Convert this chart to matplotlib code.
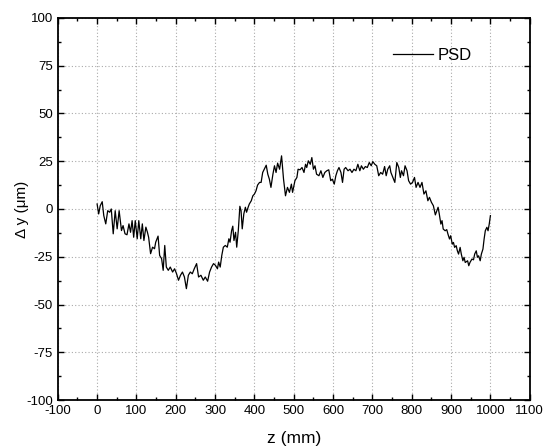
import matplotlib
matplotlib.use("Agg")
import matplotlib.pyplot as plt
from matplotlib.ticker import MultipleLocator

plt.rcParams['font.family'] = ['Liberation Sans', 'DejaVu Sans']
plt.rcParams['axes.unicode_minus'] = False

z_mm = [0, 4, 8, 13, 17, 22, 27, 32, 36, 41, 46, 51, 56, 62, 66, 71, 76, 81, 85, 89,
        93, 97, 102, 106, 111, 115, 119, 124, 128, 131, 136, 141, 146, 149, 155, 159,
        164, 168, 172, 176, 181, 186, 192, 197, 202, 207, 212, 217, 222, 227, 232, 237,
        242, 247, 253, 258,
        264, 270, 275, 281, 286, 291, 296, 301, 306, 309, 313, 317, 321, 326, 331, 335,
        338, 342, 345, 348, 352, 355, 359, 363, 366, 369, 373, 377, 380, 384, 387, 392,
        396, 400, 404, 408, 413, 417, 421, 425, 430, 434, 438, 442, 447, 451, 455, 459,
        464, 469, 474, 479, 484, 489, 494, 497, 503, 508, 511, 516, 521, 526, 530, 533,
        537, 542, 546, 550, 554, 558, 564, 569, 574, 579, 584, 589,
        594, 598, 603, 607, 611, 615, 620, 624, 628, 632, 638, 643, 648, 653, 658, 663,
        668, 672, 677, 682, 687, 692, 697, 701, 706, 711, 716, 721, 726, 731, 735, 739,
        744, 747, 752, 757, 762, 767, 771, 774, 779, 783, 788, 792, 797, 802, 807, 811,
        816, 821, 826, 831, 836, 841,
        845, 850, 855, 860, 864, 867, 870, 874, 877, 880, 885, 889, 892, 896, 899, 903,
        906, 909, 913, 916, 919, 923, 926, 930, 933, 936, 942, 945, 948, 953, 957, 960,
        964, 967, 970, 974, 977, 981, 984, 987, 991, 994, 997, 1000]

dy_um = [2.6, -2.6, 1.7, 3.8, -3.5, -7.8, -0.9, -1.7, 0.0, -13.0, -0.9, -10.4, -0.9,
         -11.3, -8.7, -13.0, -13.5, -7.8, -12.2, -6.1, -14.8, -6.1, -15.6, -6.1, -15.6,
         -7.8, -16.5, -9.5, -12.2, -14.8, -23.4, -20.0, -20.8, -17.4, -14.2, -24.3,
         -26.0, -32.1, -19.1, -30.4, -32.1, -30.4, -33.0, -31.3, -33.9, -37.3, -34.7,
         -33.0, -35.6, -41.7, -34.7, -33.0, -33.9, -31.3, -28.6, -35.6,
         -34.7, -37.3, -35.6, -37.8, -33.0, -30.4, -28.6, -29.5, -31.3, -27.8, -30.4,
         -24.3, -20.0, -19.1, -20.0, -15.6, -17.4, -11.3, -9.0, -16.5, -12.2, -20.0,
         -11.3, 1.4, -0.9, -10.4, -2.6, 0.9, -1.7, 0.9, 2.6, 4.3, 6.9, 7.8, 9.5, 12.5,
         13.9, 13.9, 19.1, 20.8, 22.9, 18.2, 15.6, 11.3, 18.2, 22.6, 19.1, 24.0, 20.8,
         27.8, 15.6, 6.9, 11.3, 8.7, 13.0, 8.7, 14.8, 16.5, 20.8, 20.5, 21.7, 19.1, 23.4,
         21.7, 25.2, 23.4, 26.9, 20.8, 22.6, 18.2, 17.4, 20.0, 16.5, 19.1, 20.0, 20.5,
         14.8, 15.6, 13.0, 17.4, 20.0, 21.7, 19.1, 13.9, 20.8, 21.7, 20.0, 20.8, 19.1,
         20.8, 20.0, 23.4, 20.0, 22.6, 20.8, 22.2, 21.7, 24.3, 22.6, 24.8, 23.4, 22.6,
         17.4, 19.1, 18.2, 22.2, 17.4, 20.8, 22.6, 19.1, 16.5, 13.9, 24.3, 21.7, 16.5,
         20.0, 17.4, 22.6, 20.0, 14.8, 13.0, 13.9, 16.5, 11.3, 13.9, 11.3, 13.9, 7.8,
         9.5, 4.3,
         6.1, 3.5, 1.7, -3.1, -0.9, 0.9, -2.6, -7.9, -6.1, -10.5, -11.4, -10.8, -13.1,
         -15.7, -14.0, -18.4, -17.5, -20.1, -19.2, -21.9, -23.6, -20.1, -23.6, -27.1,
         -25.3, -28.0, -27.1, -29.7, -28.0, -26.2, -26.6, -23.6, -21.9, -25.3, -24.5,
         -27.1, -23.6, -21.0, -15.7, -11.4, -9.6, -11.4, -7.9, -3.5]

x_ticks = list(range(-100, 1101, 100))
y_ticks = list(range(-100, 101, 25))

fig = plt.figure(figsize=(5.45, 4.47), dpi=100)
ax = fig.add_axes([0.106, 0.105, 0.866, 0.855])

ax.plot(z_mm, dy_um, color='black', linewidth=0.9, label='PSD')

ax.set_xlim(-100, 1100)
ax.set_ylim(-100, 100)
ax.set_xticks(x_ticks)
ax.set_yticks(y_ticks)
ax.xaxis.set_minor_locator(MultipleLocator(50))
ax.yaxis.set_minor_locator(MultipleLocator(12.5))
ax.tick_params(which='both', direction='in', top=True, right=True, labelsize=9.5)
ax.tick_params(which='major', length=4, width=1)
ax.tick_params(which='minor', length=2.5, width=1)
for s in ax.spines.values():
    s.set_linewidth(1.3)

ax.grid(True, which='major', linestyle=(0, (1, 2)), color='#aaaaaa', linewidth=0.8)

ax.set_xlabel('z (mm)', fontsize=12.5, labelpad=10)
ax.set_ylabel('Δ y (μm)', fontsize=11, labelpad=-2)

ax.legend(loc='center left', bbox_to_anchor=(0.710, 0.901), frameon=False,
          fontsize=12, handlelength=2.4, handletextpad=0.3,
          borderpad=0, borderaxespad=0)

fig.savefig('out.png', dpi=100)
